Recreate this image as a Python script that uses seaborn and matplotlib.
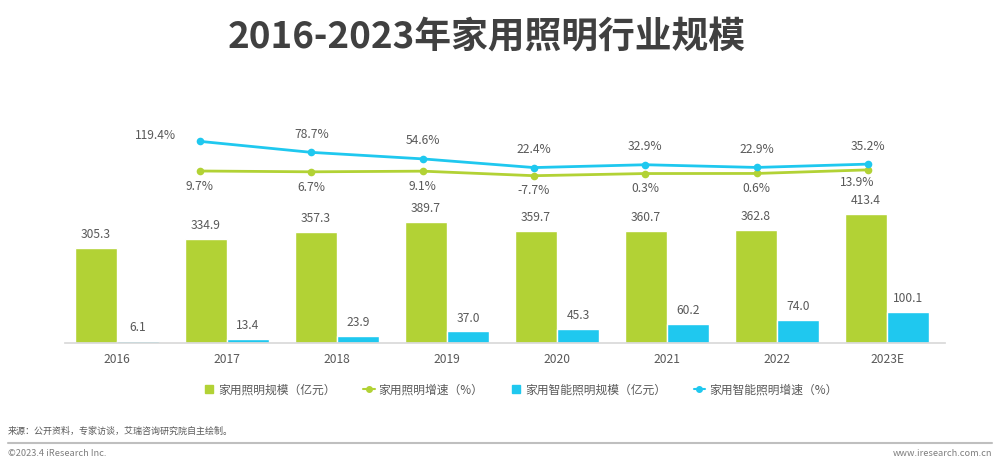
import matplotlib
matplotlib.use("Agg")  # save without a display

import matplotlib.pyplot as plt
from matplotlib.lines import Line2D
import pandas as pd
import seaborn as sns

YEARS = ["2016", "2017", "2018", "2019", "2020", "2021", "2022", "2023E"]
LIGHTING_SCALE = [305.3, 334.9, 357.3, 389.7, 359.7, 360.7, 362.8, 413.4]
SMART_SCALE = [6.1, 13.4, 23.9, 37.0, 45.3, 60.2, 74.0, 100.1]
# growth rates start from 2017 (7 points)
LIGHTING_GROWTH = [9.7, 6.7, 9.1, -7.7, 0.3, 0.6, 13.9]
SMART_GROWTH = [119.4, 78.7, 54.6, 22.4, 32.9, 22.9, 35.2]

SERIES = ["家用照明规模（亿元）", "家用智能照明规模（亿元）"]
LINES = ["家用照明增速（%）", "家用智能照明增速（%）"]

green, blue = "#b2d235", "#1fc8ef"
text_color, title_color, axis_color = "#595959", "#404040", "#d9d9d9"

sns.set_theme(style="white")
plt.rcParams["font.family"] = ["Noto Sans CJK SC", "DejaVu Sans"]

bars = pd.DataFrame({
    "year": YEARS * 2,
    "value": LIGHTING_SCALE + SMART_SCALE,
    "series": [SERIES[0]] * len(YEARS) + [SERIES[1]] * len(YEARS),
})
growth = pd.DataFrame({
    "pos": list(range(len(LIGHTING_GROWTH))) * 2,
    "value": LIGHTING_GROWTH + SMART_GROWTH,
    "series": [LINES[0]] * len(LIGHTING_GROWTH) + [LINES[1]] * len(SMART_GROWTH),
})

W, H = 1000, 467
fig = plt.figure(figsize=(W / 100, H / 100), dpi=100)

# bar axes: baseline at y=343px, top at 120px
ax_rect = [65 / W, (H - 343) / H, 880 / W, 223 / H]
ax = fig.add_axes(ax_rect)
sns.barplot(data=bars, x="year", y="value", hue="series", order=YEARS,
            hue_order=SERIES, palette=[green, blue], width=0.764,
            saturation=1, legend=False, ax=ax)
for container in ax.containers:
    ax.bar_label(container, fmt="%.1f", padding=5, fontsize=8.7, color=text_color)
ax.set_xlim(-0.473, 7.527)
ax.set_ylim(0, 717)
ax.set_xlabel("")
ax.set_ylabel("")
ax.set_yticks([])
for side in ["top", "right", "left"]:
    ax.spines[side].set_visible(False)
ax.spines["bottom"].set_color(axis_color)
ax.tick_params(axis="x", length=0, pad=7, labelsize=8.7, labelcolor=text_color)

# growth lines live on their own axes, offset from the bar groups
ax2 = fig.add_axes(ax_rect)
ax2.patch.set_visible(False)
sns.lineplot(data=growth, x="pos", y="value", hue="series", hue_order=LINES,
             palette=[green, blue], marker="o", markersize=5.5, markeredgewidth=0,
             linewidth=2, legend=False, ax=ax2)
ax2.set_xlim(-1.2126, 6.692)
ax2.set_ylim(-627, 198.5)
ax2.axis("off")

for i, v in enumerate(SMART_GROWTH):
    offset = (-32, 4) if i == 0 else (0, 13)
    ax2.annotate(f"{v:.1f}%", (i, v), xytext=offset, textcoords="offset points",
                 ha="center", va="center", fontsize=8.7, color=text_color)
for i, v in enumerate(LIGHTING_GROWTH):
    offset = (-8, -9) if i == len(LIGHTING_GROWTH) - 1 else (0, -11)
    ax2.annotate(f"{v:.1f}%", (i, v), xytext=offset, textcoords="offset points",
                 ha="center", va="center", fontsize=8.7, color=text_color)

fig.text(0.487, 1 - 37 / H, "2016-2023年家用照明行业规模", ha="center", va="center",
         fontsize=26.5, fontweight="bold", color=title_color)

handles = [
    Line2D([], [], marker="s", linestyle="none", color=green, markersize=6),
    Line2D([], [], marker="o", color=green, markersize=4, linewidth=1.5),
    Line2D([], [], marker="s", linestyle="none", color=blue, markersize=6),
    Line2D([], [], marker="o", color=blue, markersize=4, linewidth=1.5),
]
labels = [SERIES[0], LINES[0], SERIES[1], LINES[1]]
leg = fig.legend(handles, labels, ncol=4, loc="center", frameon=False,
                 bbox_to_anchor=(0.52, 1 - 390 / H), fontsize=8.5, handlelength=1.0,
                 handletextpad=0.3, columnspacing=2.3)
for t in leg.get_texts():
    t.set_color(text_color)

fig.text(8 / W, 1 - 431 / H, "来源：公开资料，专家访谈，艾瑞咨询研究院自主绘制。",
         ha="left", va="center", fontsize=6.5, color=text_color)
fig.add_artist(Line2D([8 / W, 992 / W], [1 - 443 / H] * 2, color="#bfbfbf",
                      linewidth=1.5, transform=fig.transFigure))
fig.text(8 / W, 1 - 453 / H, "©2023.4 iResearch Inc.", ha="left", va="center",
         fontsize=6.7, color="#7f7f7f")
fig.text(992 / W, 1 - 453 / H, "www.iresearch.com.cn", ha="right", va="center",
         fontsize=6.7, color="#7f7f7f")

fig.savefig("out.png", dpi=100)
plt.close(fig)
